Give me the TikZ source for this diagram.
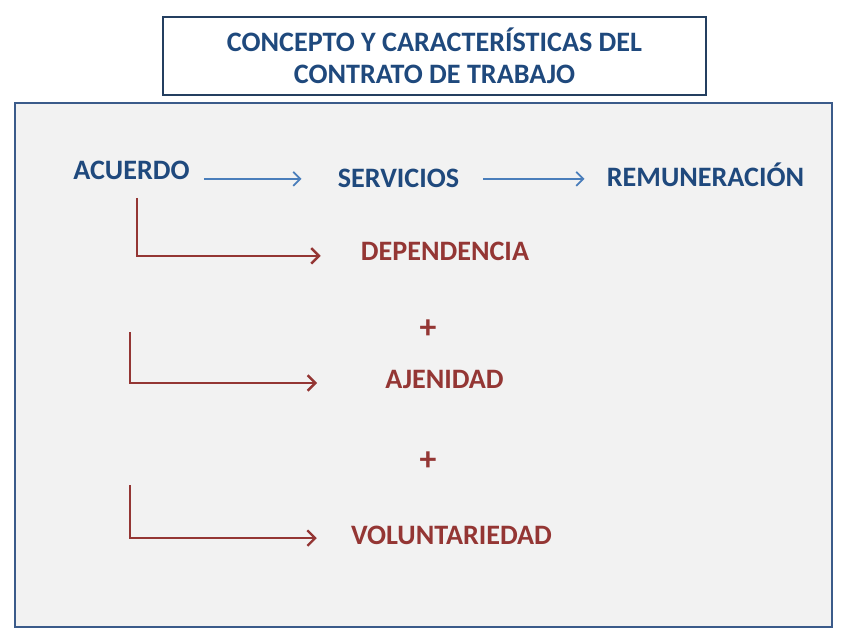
\documentclass[tikz,border=0pt]{standalone}
\usepackage{fontspec}
\setmainfont{Carlito}
\usetikzlibrary{
  arrows.meta,
  positioning,
}
\definecolor{textblue}{HTML}{1F497D}
\definecolor{textred}{HTML}{943634}
\definecolor{arrowblue}{HTML}{4A7EBB}
\definecolor{framegray}{HTML}{F2F2F2}
\definecolor{frameblue}{HTML}{3B5B8A}
\definecolor{titleblue}{HTML}{243F60}

\begin{document}
\begin{tikzpicture}[x=0.025cm, y=-0.025cm,
    word/.style={font=\fontsize{20}{24}\selectfont\bfseries, inner sep=0pt, anchor=base},
    blueword/.style={word, text=textblue},
    redword/.style={word, text=textred},
    bluearrow/.style={draw=arrowblue, line width=1.3pt, -{Straight Barb[length=5pt, width=10pt]}},
    redarrow/.style={draw=textred, line width=1.7pt, -{Straight Barb[length=5.5pt, width=11pt]}},
  ]
      \useasboundingbox (0,0) rectangle (848,636);
      \draw [frameblue, line width=1.8pt, fill=framegray] (15,103) rectangle (832,627);
      \node [draw=titleblue, line width=1.8pt, fill=white, text=textblue, align=center,
             font=\fontsize{20}{23}\selectfont\bfseries,
             minimum width=13.58cm, minimum height=1.95cm] (title) at (434.5,56)
            {CONCEPTO Y CARACTERÍSTICAS DEL\\CONTRATO DE TRABAJO};
      \node [blueword] (acuerdo) at (131.5,180) {ACUERDO};
      \node [blueword] (servicios) at (398.5,188) {SERVICIOS};
      \node [blueword] (remuneracion) at (705.5,187) {REMUNERACIÓN};
      \node [redword] (dependencia) at (445,261) {DEPENDENCIA};
      \node [redword] (ajenidad) at (444.5,388) {AJENIDAD};
      \node [redword] (voluntariedad) at (451.5,544) {VOLUNTARIEDAD};
      \node [redword, anchor=center, font=\fontsize{24}{24}\selectfont\bfseries] (plusA) at (428,329) {+};
      \node [redword, anchor=center, font=\fontsize{24}{24}\selectfont\bfseries] (plusB) at (428,461) {+};
      \coordinate (startA) at (137,198);
      \coordinate (startB) at (130,332);
      \coordinate (startC) at (130,485);
      \draw [bluearrow, shorten <=0.35cm, shorten >=0.9cm] (acuerdo.east |- servicios.west) to (servicios.west);
      \draw [bluearrow, shorten <=0.6cm, shorten >=0.55cm] (servicios.east) to (remuneracion.west |- servicios.east);
      \draw [redarrow, shorten >=1.0cm] (startA) |- ([yshift=-0.1cm]dependencia.west);
      \draw [redarrow, shorten >=1.7cm] (startB) |- ([yshift=-0.1cm]ajenidad.west);
      \draw [redarrow, shorten >=0.85cm] (startC) |- ([yshift=-0.08cm]voluntariedad.west);
    \end{tikzpicture}
\end{document}
